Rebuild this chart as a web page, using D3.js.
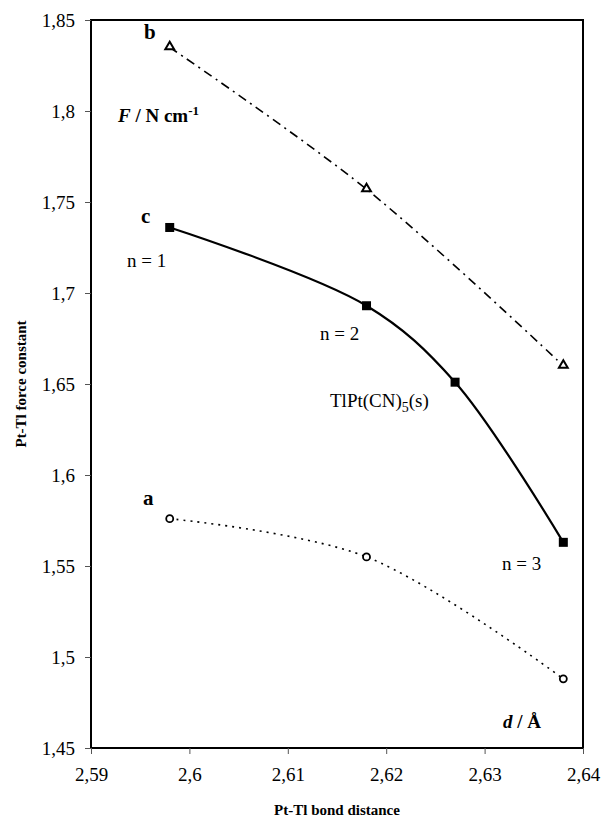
<!DOCTYPE html>
<html>
<head>
<meta charset="utf-8">
<script src="https://cdn.jsdelivr.net/npm/d3@7"></script>
<style>
  body { margin: 0; background: #fff; }
</style>
</head>
<body>
<div id="chart"></div>
<script>
"use strict"

// Pt-Tl bond distance (Å)
const distA = [2.598, 2.618, 2.638]
const distB = [2.598, 2.618, 2.638]
const distC = [2.598, 2.618, 2.627, 2.638]
// Pt-Tl force constant (N cm-1)
const forceA = [1.576, 1.555, 1.488]
const forceB = [1.835, 1.757, 1.660]
const forceC = [1.736, 1.693, 1.651, 1.563]

const xTicks = [2.59, 2.6, 2.61, 2.62, 2.63, 2.64]
const yTicks = [1.45, 1.5, 1.55, 1.6, 1.65, 1.7, 1.75, 1.8, 1.85]

const FONT = "'Times New Roman', 'Liberation Serif', Times, 'DejaVu Serif', serif"

const width = 603, height = 822
const margin = { top: 20, right: 20, bottom: 74, left: 91 }

const svg = d3.select("#chart").append("svg")
    .attr("width", width)
    .attr("height", height)
    .attr("font-family", FONT)

const x = d3.scaleLinear()
    .domain([2.59, 2.64])
    .range([margin.left, width - margin.right])
const y = d3.scaleLinear()
    .domain([1.45, 1.85])
    .range([height - margin.bottom, margin.top])

const fmt = d => String(+d.toFixed(2)).replace(".", ",")

// frame
svg.append("rect")
    .attr("x", x(2.59)).attr("y", y(1.85))
    .attr("width", x(2.64) - x(2.59))
    .attr("height", y(1.45) - y(1.85))
    .attr("fill", "none")
    .attr("stroke", "#000")
    .attr("stroke-width", 2)

const xAxis = svg.append("g")
    .attr("transform", `translate(0, ${y(1.45)})`)
    .call(d3.axisBottom(x).tickValues(xTicks).tickFormat(fmt).tickSize(6).tickPadding(10))
const yAxis = svg.append("g")
    .attr("transform", `translate(${x(2.59)}, 0)`)
    .call(d3.axisLeft(y).tickValues(yTicks).tickFormat(fmt).tickSize(6).tickPadding(10))

for (let ax of [xAxis, yAxis]) {
    ax.attr("font-family", FONT).attr("font-size", 19)
    ax.select(".domain").remove()
    ax.selectAll("line").attr("stroke", "#555").attr("stroke-width", 1)
    ax.selectAll("text").attr("fill", "#000")
}
xAxis.selectAll("text").attr("dy", "0.9em")
yAxis.selectAll("text").attr("dy", "0.33em")

// series
const series = [
    { xs: distA, ys: forceA, dash: "2,5", width: 1.6, marker: "circle" },
    { xs: distB, ys: forceB, dash: "9,5,2,5", width: 1.6, marker: "triangle" },
    { xs: distC, ys: forceC, dash: null, width: 2.2, marker: "square" }
]

const line = d3.line()
    .x(d => x(d[0]))
    .y(d => y(d[1]))
    .curve(d3.curveCatmullRom.alpha(0.5))

for (let s of series) {
    const pts = s.xs.map((v, i) => [v, s.ys[i]])
    svg.append("path")
        .datum(pts)
        .attr("d", line)
        .attr("fill", "none")
        .attr("stroke", "#000")
        .attr("stroke-width", s.width)
        .attr("stroke-dasharray", s.dash)

    const g = svg.append("g")
    if (s.marker === "square") {
        g.selectAll("rect").data(pts).enter().append("rect")
            .attr("x", d => x(d[0]) - 4.5).attr("y", d => y(d[1]) - 4.5)
            .attr("width", 9).attr("height", 9)
            .attr("fill", "#000")
    } else if (s.marker === "triangle") {
        g.selectAll("path").data(pts).enter().append("path")
            .attr("d", d3.symbol(d3.symbolTriangle, 34))
            .attr("transform", d => `translate(${x(d[0])}, ${y(d[1]) - 0.5})`)
            .attr("fill", "#fff")
            .attr("stroke", "#000")
            .attr("stroke-width", 2)
    } else {
        g.selectAll("circle").data(pts).enter().append("circle")
            .attr("cx", d => x(d[0])).attr("cy", d => y(d[1]))
            .attr("r", 3.5)
            .attr("fill", "#fff")
            .attr("stroke", "#000")
            .attr("stroke-width", 1.8)
    }
}

// annotations
const note = (px, py, txt, opts = {}) => svg.append("text")
    .attr("x", px).attr("y", py)
    .attr("font-size", opts.size || 19)
    .attr("font-weight", opts.bold ? "bold" : "normal")
    .text(txt)

note(144, 39, "b", { bold: true, size: 21 })
note(141, 223, "c", { bold: true, size: 21 })
note(143, 505, "a", { bold: true, size: 21 })
note(127, 267, "n = 1")
note(320, 340, "n = 2")
note(502, 570, "n = 3")

const tl = note(330, 407, "TlPt(CN)")
tl.append("tspan").attr("dy", 5).attr("font-size", 14).text("5")
tl.append("tspan").attr("dy", -5).text("(s)")

const fUnit = note(118, 122, "", { bold: true, size: 19 })
fUnit.append("tspan").attr("font-style", "italic").text("F")
fUnit.append("tspan").text(" / N cm")
fUnit.append("tspan").attr("dy", -7).attr("font-size", 13).text("-1")

const dUnit = note(503, 728, "", { bold: true, size: 19 })
dUnit.append("tspan").attr("font-style", "italic").text("d")
dUnit.append("tspan").text(" / Å")

// axis titles
svg.append("text")
    .attr("x", x(2.615)).attr("y", 815)
    .attr("text-anchor", "middle")
    .attr("font-size", 15)
    .attr("font-weight", "bold")
    .text("Pt-Tl bond distance")
svg.append("text")
    .attr("transform", `translate(26, ${y(1.65)}) rotate(-90)`)
    .attr("text-anchor", "middle")
    .attr("font-size", 15)
    .attr("font-weight", "bold")
    .text("Pt-Tl force constant")
</script>
</body>
</html>
